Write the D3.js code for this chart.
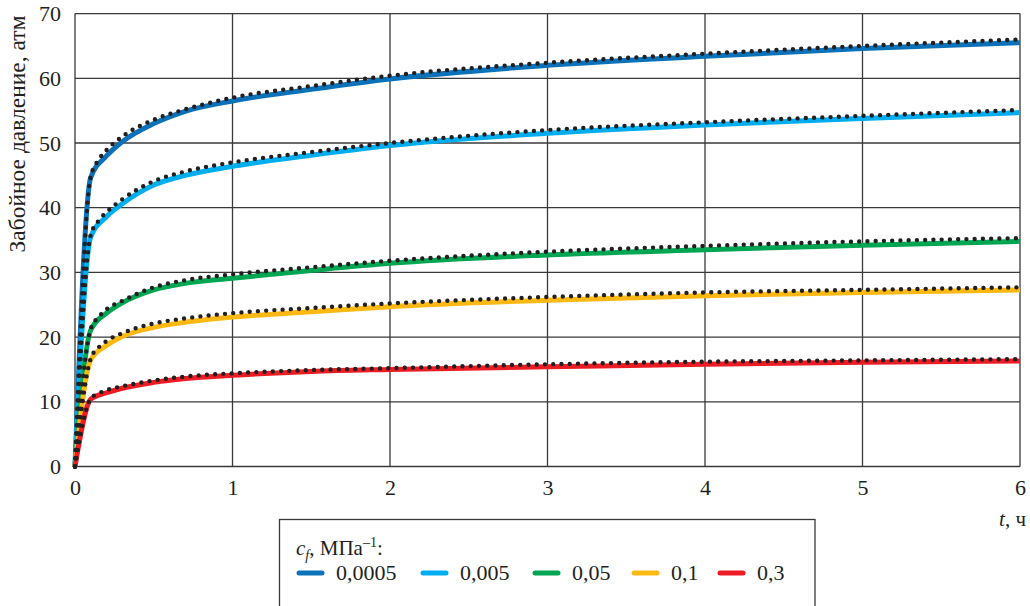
<!DOCTYPE html>
<html>
<head>
<meta charset="utf-8">
<script src="https://cdn.jsdelivr.net/npm/d3@7/dist/d3.min.js"></script>
<style>
  html, body { margin: 0; padding: 0; background: #fff; }
  svg { display: block; }
</style>
</head>
<body>
<svg id="chart" width="1030" height="606"></svg>
<script>
// Bottom-hole pressure build-up for different fracture compressibility values
const seriesLabels = ["0,0005", "0,005", "0,05", "0,1", "0,3"];
const seriesColors = ["#0b72b9", "#00aeef", "#00a651", "#fdb913", "#ed1c24"];

// numerical solution (solid lines), time in hours
const tNum = [0, 0.1, 0.2, 0.3, 0.5, 0.7, 1, 1.5, 2, 3, 4, 5, 6];
const pNum0005 = [0, 44.7, 48.0, 50.2, 53.0, 54.9, 56.5, 58.3, 59.9, 62.0, 63.4, 64.6, 65.5];
const pNum005  = [0, 35.5, 38.6, 40.6, 43.5, 45.0, 46.4, 48.1, 49.6, 51.5, 52.8, 53.8, 54.7];
const pNum05   = [0, 21.1, 23.7, 25.3, 27.3, 28.3, 29.1, 30.3, 31.4, 32.7, 33.5, 34.2, 34.8];
const pNum1    = [0, 16.5, 18.7, 20.1, 21.5, 22.3, 23.1, 23.9, 24.7, 25.7, 26.4, 26.9, 27.3];
const pNum3    = [0, 10.4, 11.4, 12.1, 13.0, 13.6, 14.1, 14.7, 15.0, 15.4, 15.8, 16.1, 16.3];

// analytical solution (dotted lines)
const tAn = [0, 0.1, 0.15, 0.2, 0.3, 0.5, 0.7, 1, 1.5, 2, 3, 4, 5, 6];
const pAn0005 = [0, 44.8, 47.4, 48.9, 51.0, 53.6, 55.2, 57.0, 58.8, 60.4, 62.4, 63.8, 65.0, 66.0];
const pAn005  = [0, 35.8, 38.0, 39.3, 41.3, 44.1, 45.6, 47.0, 48.6, 50.0, 52.0, 53.2, 54.2, 55.1];
const pAn05   = [0, 21.3, 23.1, 24.3, 25.6, 27.7, 28.8, 29.7, 30.8, 31.8, 33.2, 34.1, 34.8, 35.3];
const pAn1    = [0, 16.7, 18.4, 19.4, 20.6, 22.1, 22.9, 23.7, 24.5, 25.2, 26.2, 26.9, 27.3, 27.7];
const pAn3    = [0, 10.5, 11.3, 11.8, 12.4, 13.3, 13.9, 14.4, 14.9, 15.2, 15.8, 16.2, 16.4, 16.6];

const xTicks = [0, 1, 2, 3, 4, 5, 6];
const yTicks = [0, 10, 20, 30, 40, 50, 60, 70];

const numSeries = [pNum0005, pNum005, pNum05, pNum1, pNum3];
const anSeries = [pAn0005, pAn005, pAn05, pAn1, pAn3];

const FONT = "'Liberation Serif', 'Times New Roman', 'DejaVu Serif', serif";
const INK = "#231f20";

const svg = d3.select("#chart");
const plot = { left: 75, right: 1020, top: 13.6, bottom: 466.5 };

const x = d3.scaleLinear().domain([0, 6]).range([plot.left, plot.right]);
const y = d3.scaleLinear().domain([0, 70]).range([plot.bottom, plot.top]);

// grid
const grid = svg.append("g");
grid.selectAll("line.v").data(xTicks).join("line")
  .attr("x1", d => x(d)).attr("x2", d => x(d))
  .attr("y1", plot.top).attr("y2", plot.bottom)
  .attr("stroke", "#3a3a3a").attr("stroke-width", 1.3);
grid.selectAll("line.h").data(yTicks).join("line")
  .attr("x1", plot.left).attr("x2", plot.right)
  .attr("y1", d => y(d)).attr("y2", d => y(d))
  .attr("stroke", "#3a3a3a").attr("stroke-width", 1.3);

// axes (labels only, frame comes from the grid)
const xAxis = d3.axisBottom(x).tickValues(xTicks).tickSize(0).tickPadding(13).tickFormat(d3.format("d"));
const gx = svg.append("g").attr("transform", `translate(0,${plot.bottom})`).call(xAxis)
  .attr("font-family", FONT).attr("font-size", 22);
gx.select(".domain").remove();
gx.selectAll("text").attr("fill", INK);

const yAxis = d3.axisLeft(y).tickValues(yTicks).tickSize(0).tickPadding(14).tickFormat(d3.format("d"));
const gy = svg.append("g").attr("transform", `translate(${plot.left},0)`).call(yAxis)
  .attr("font-family", FONT).attr("font-size", 22);
gy.select(".domain").remove();
gy.selectAll("text").attr("fill", INK);

// axis titles
svg.append("text")
  .attr("transform", "translate(25,134) rotate(-90)")
  .attr("text-anchor", "middle")
  .attr("font-family", FONT).attr("font-size", 23.5).attr("fill", INK)
  .text("Забойное давление, атм");

const xt = svg.append("text")
  .attr("x", 1026).attr("y", 526)
  .attr("text-anchor", "end")
  .attr("font-family", FONT).attr("font-size", 21).attr("fill", INK);
xt.append("tspan").attr("font-style", "italic").text("t");
xt.append("tspan").text(", ч");

// curves
const curves = svg.append("g");
const line = d3.line().curve(d3.curveMonotoneX);

numSeries.forEach((vals, i) => {
  curves.append("path")
    .attr("d", line(tNum.map((t, k) => [x(t), y(vals[k])])))
    .attr("fill", "none")
    .attr("stroke", seriesColors[i])
    .attr("stroke-width", 5)
    .attr("stroke-linejoin", "round");
});

anSeries.forEach(vals => {
  curves.append("path")
    .attr("d", line(tAn.map((t, k) => [x(t), y(vals[k])])))
    .attr("fill", "none")
    .attr("stroke", INK)
    .attr("stroke-width", 4.4)
    .attr("stroke-linecap", "round")
    .attr("stroke-dasharray", "0 8.25");
});

// legend
const lg = svg.append("g").attr("font-family", FONT).attr("fill", INK);
lg.append("rect")
  .attr("x", 279.5).attr("y", 519.5).attr("width", 535.5).attr("height", 100)
  .attr("fill", "#fff").attr("stroke", "#3a3a3a").attr("stroke-width", 1.3);

const lt = lg.append("text").attr("x", 296).attr("y", 555).attr("font-size", 21);
lt.append("tspan").attr("font-style", "italic").text("c");
lt.append("tspan").attr("font-style", "italic").attr("font-size", 14).attr("dy", 5).text("f");
lt.append("tspan").attr("dy", -5).text(", МПа");
lt.append("tspan").attr("font-size", 14).attr("dy", -8).text("–1");
lt.append("tspan").attr("dy", 8).text(":");

const itemX = [297, 421, 533, 632, 718];
seriesLabels.forEach((lab, i) => {
  lg.append("line")
    .attr("x1", itemX[i] + 2).attr("x2", itemX[i] + 25)
    .attr("y1", 573).attr("y2", 573)
    .attr("stroke", seriesColors[i]).attr("stroke-width", 5)
    .attr("stroke-linecap", "round");
  lg.append("text")
    .attr("x", itemX[i] + 39).attr("y", 580)
    .attr("font-size", 22)
    .text(lab);
});
</script>
</body>
</html>
